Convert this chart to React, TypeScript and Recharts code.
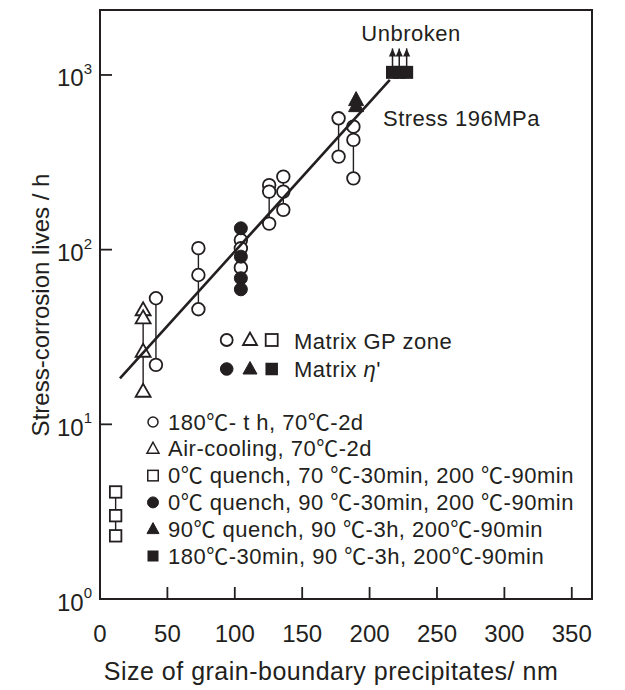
import { ScatterChart, Scatter, XAxis, YAxis, ReferenceArea } from "recharts";

const INK = "#231f20";
const FONT = "'Liberation Sans', Arial, 'Noto Sans CJK JP', sans-serif";

// [precipitate size (nm), stress-corrosion life (h)]
const gpCircles: [number, number][] = [
  [41.5, 52.7], [41.5, 21.9],
  [73, 102], [73, 71.6], [73, 45.6],
  [104.5, 113.6], [104.5, 101.8], [104.5, 78.9],
  [125.5, 234], [125.5, 215], [125.5, 141],
  [136, 262], [136, 215], [136, 169],
  [177, 565], [177, 341],
  [188, 506], [188, 425], [188, 256],
];
const gpTriangles: [number, number][] = [[32, 45.1], [32, 40.5], [32, 26.1], [32, 15.4]];
const gpSquares: [number, number][] = [[11.6, 4.1], [11.6, 3.0], [11.6, 2.3]];
const etaCircles: [number, number][] = [[104.5, 132.5], [104.5, 91.2], [104.5, 68.6], [104.5, 59.3]];
const etaTriangles: [number, number][] = [[190, 719], [190, 664]];
const etaSquares: [number, number][] = [[217, 1035], [222, 1035], [227.5, 1035]];
const unbrokenTip = 1420;
const fitLine: [number, number][] = [[14.8, 18.3], [215, 936]];

const xTicks = [0, 50, 100, 150, 200, 250, 300, 350];
const yTicks = [1, 10, 100, 1000];
const X_MAX = 365;
const Y_MAX = 2355;

const legendRows = [
  "180℃- t h, 70℃-2d",
  "Air-cooling, 70℃-2d",
  "0℃ quench, 70 ℃-30min, 200 ℃-90min",
  "0℃ quench, 90 ℃-30min, 200 ℃-90min",
  "90℃ quench, 90 ℃-3h, 200℃-90min",
  "180℃-30min, 90 ℃-3h, 200℃-90min",
];

const pts = (arr: [number, number][]) => arr.map(([x, y]) => ({ x, y }));

// vertical tie lines joining points that share a size
function columns(arr: [number, number][]) {
  const m = new Map<number, number[]>();
  arr.forEach(([x, y]) => m.set(x, [...(m.get(x) ?? []), y]));
  return [...m]
    .filter(([, ys]) => ys.length > 1)
    .map(([x, ys]) => [{ x, y: Math.max(...ys) }, { x, y: Math.min(...ys) }]);
}

/* eslint-disable @typescript-eslint/no-explicit-any */
const circleAt = (cx: number, cy: number, r: number, fill: string, sw = 1.8) => (
  <circle cx={cx} cy={cy} r={r} fill={fill} stroke={INK} strokeWidth={sw} />
);
const triAt = (cx: number, cy: number, w: number, h: number, fill: string, sw = 1.8) => (
  <polygon
    points={`${cx},${cy - h * 0.6} ${cx - w / 2},${cy + h * 0.4} ${cx + w / 2},${cy + h * 0.4}`}
    fill={fill}
    stroke={INK}
    strokeWidth={sw}
    strokeLinejoin="miter"
  />
);
const squareAt = (cx: number, cy: number, s: number, fill: string, sw = 1.8) => (
  <rect x={cx - s / 2} y={cy - s / 2} width={s} height={s} fill={fill} stroke={fill === "#fff" ? INK : "none"} strokeWidth={sw} />
);

const none = () => <g />;
const openCircle = (p: any) => circleAt(p.cx, p.cy, 6.3, "#fff");
const fillCircle = (p: any) => circleAt(p.cx, p.cy, 6.5, INK, 1);
const openTri = (p: any) => triAt(p.cx, p.cy, 15, 13, "#fff");
const fillTri = (p: any) => triAt(p.cx, p.cy, 15, 14, INK, 1);
const openSquare = (p: any) => squareAt(p.cx, p.cy, 11.5, "#fff");
const fillSquare = (p: any) => squareAt(p.cx, p.cy, 13, INK);
const arrowHead = (p: any) =>
  p.payload?.tip ? (
    <polygon points={`${p.cx},${p.cy} ${p.cx - 3.6},${p.cy + 8} ${p.cx + 3.6},${p.cy + 8}`} fill={INK} />
  ) : (
    <g />
  );

const XTick = ({ x, y, payload }: any) => (
  <g>
    <line x1={x} x2={x} y1={y} y2={y - 12} stroke={INK} strokeWidth={1.8} />
    <text x={x} y={y + 34} textAnchor="middle" dominantBaseline="central" fontSize={24} fill={INK} fontFamily={FONT}>
      {payload.value}
    </text>
  </g>
);

const YTick = ({ x, y, payload }: any) => (
  <g>
    {payload.value > 1 && <line x1={x} x2={x + 12} y1={y} y2={y} stroke={INK} strokeWidth={1.8} />}
    <text x={x - 8} y={y + 3} textAnchor="end" dominantBaseline="central" fontSize={24} fill={INK} fontFamily={FONT}>
      10
      <tspan dy={-10} fontSize={15}>
        {Math.round(Math.log10(payload.value))}
      </tspan>
    </text>
  </g>
);
/* eslint-enable @typescript-eslint/no-explicit-any */

const label = { fontFamily: FONT, fill: INK, letterSpacing: 0.5 } as const;

export default function App() {
  const ties = columns([...gpSquares, ...gpTriangles, ...gpCircles, ...etaCircles]);
  const rowY = (i: number) => 422 + i * 26.8;
  const rowMarks = [
    (y: number) => circleAt(153, y, 5, "#fff", 1.5),
    (y: number) => triAt(153, y, 12, 11, "#fff", 1.5),
    (y: number) => squareAt(153, y, 10.5, "#fff", 1.5),
    (y: number) => circleAt(153, y, 5.5, INK, 1),
    (y: number) => triAt(153, y, 12, 11, INK, 1),
    (y: number) => squareAt(153, y, 11, INK),
  ];

  return (
    <div style={{ position: "absolute", left: 0, top: 0, width: 625, height: 690, background: "#fff" }}>
      <ScatterChart width={625} height={690} margin={{ top: 10, right: 33, bottom: 41, left: 0 }}>
        <XAxis
          type="number"
          dataKey="x"
          domain={[0, X_MAX]}
          ticks={xTicks}
          interval={0}
          allowDataOverflow
          height={50}
          axisLine={false}
          tickLine={false}
          tickSize={0}
          tickMargin={0}
          tick={<XTick />}
        />
        <YAxis
          type="number"
          dataKey="y"
          scale="log"
          domain={[1, Y_MAX]}
          ticks={yTicks}
          interval={0}
          allowDataOverflow
          width={100}
          axisLine={false}
          tickLine={false}
          tickSize={0}
          tickMargin={0}
          tick={<YTick />}
        />
        <ReferenceArea x1={0} x2={X_MAX} y1={1} y2={Y_MAX} fill="none" stroke={INK} strokeWidth={2} ifOverflow="visible" />

        {ties.map((d, i) => (
          <Scatter key={`tie${i}`} data={d} line={{ stroke: INK, strokeWidth: 1.4 }} lineType="joint" shape={none} isAnimationActive={false} />
        ))}
        {etaSquares.map(([x, y], i) => (
          <Scatter
            key={`arrow${i}`}
            data={[{ x, y }, { x, y: unbrokenTip, tip: true }]}
            line={{ stroke: INK, strokeWidth: 1.5 }}
            lineType="joint"
            shape={arrowHead}
            isAnimationActive={false}
          />
        ))}

        <Scatter data={pts(gpSquares)} shape={openSquare} isAnimationActive={false} />
        <Scatter data={pts(gpTriangles)} shape={openTri} isAnimationActive={false} />
        <Scatter data={pts(gpCircles)} shape={openCircle} isAnimationActive={false} />
        <Scatter data={pts(etaCircles)} shape={fillCircle} isAnimationActive={false} />
        <Scatter data={pts(etaTriangles)} shape={fillTri} isAnimationActive={false} />
        <Scatter data={pts(etaSquares)} shape={fillSquare} isAnimationActive={false} />

        <Scatter data={pts(fitLine)} line={{ stroke: INK, strokeWidth: 2.6 }} lineType="joint" shape={none} isAnimationActive={false} />
      </ScatterChart>

      <svg width={625} height={690} style={{ position: "absolute", left: 0, top: 0, pointerEvents: "none" }}>
        <text x={411} y={33} textAnchor="middle" dominantBaseline="central" fontSize={22} {...label}>
          Unbroken
        </text>
        <text x={383} y={118} dominantBaseline="central" fontSize={22} {...label}>
          Stress 196MPa
        </text>

        {circleAt(226.7, 340, 6, "#fff")}
        {triAt(250, 340, 14, 12.5, "#fff")}
        {squareAt(271.7, 340, 12, "#fff")}
        {circleAt(226.7, 369, 6.3, INK, 1)}
        {triAt(250, 369, 14, 12.5, INK, 1)}
        {squareAt(271.7, 369, 12.5, INK)}
        <text x={294} y={341} dominantBaseline="central" fontSize={22} {...label}>
          Matrix GP zone
        </text>
        <text x={294} y={369} dominantBaseline="central" fontSize={22} {...label}>
          Matrix <tspan fontStyle="italic">η</tspan>'
        </text>

        {legendRows.map((t, i) => (
          <g key={t}>
            {rowMarks[i](rowY(i))}
            <text x={168} y={rowY(i)} dominantBaseline="central" fontSize={22} {...label}>
              {t}
            </text>
          </g>
        ))}

        <text x={331} y={671} textAnchor="middle" dominantBaseline="central" fontSize={25} {...label}>
          Size of grain-boundary precipitates/ nm
        </text>
        <text
          x={40}
          y={305}
          textAnchor="middle"
          dominantBaseline="central"
          fontSize={24}
          transform="rotate(-90 40 305)"
          fontFamily={FONT}
          fill={INK}
        >
          Stress-corrosion lives / h
        </text>
      </svg>
    </div>
  );
}
